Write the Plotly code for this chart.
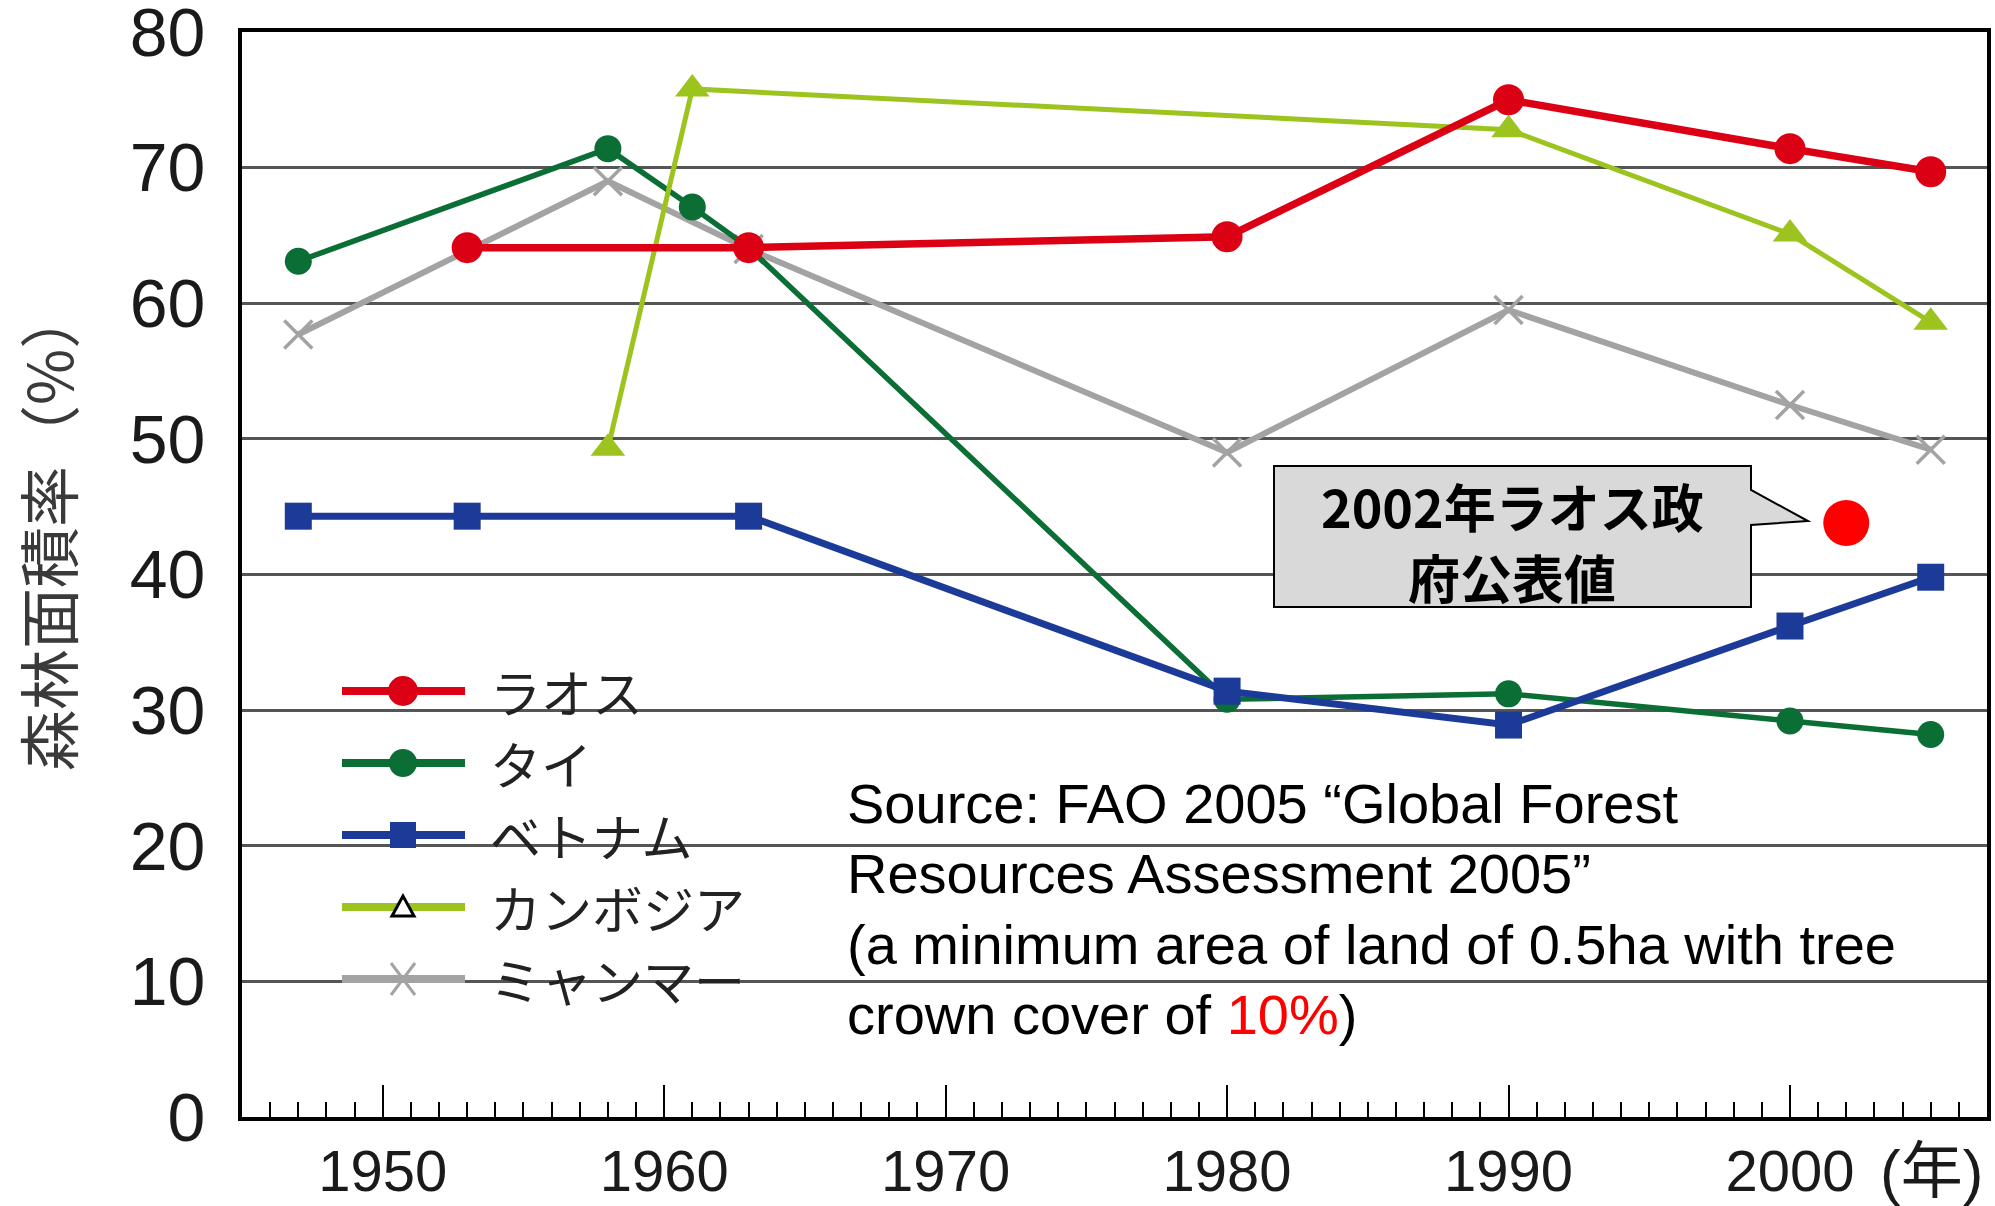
import plotly.graph_objects as go

# ---------------- data ----------------
laos_years = [1953, 1963, 1980, 1990, 2000, 2005]
laos_vals = [64.1, 64.1, 64.9, 75.0, 71.4, 69.7]

thai_years = [1947, 1958, 1961, 1963, 1980, 1990, 2000, 2005]
thai_vals = [63.1, 71.4, 67.1, 64.1, 30.8, 31.2, 29.2, 28.2]

viet_years = [1947, 1953, 1963, 1980, 1990, 2000, 2005]
viet_vals = [44.3, 44.3, 44.3, 31.4, 28.9, 36.2, 39.8]

camb_years = [1958, 1961, 1990, 2000, 2005]
camb_vals = [49.3, 75.8, 72.8, 65.1, 58.6]

myan_years = [1947, 1958, 1963, 1980, 1990, 2000, 2005]
myan_vals = [57.7, 69.0, 64.0, 49.0, 59.5, 52.5, 49.2]

gov_year = [2002]
gov_val = [43.8]

series_names = ["ラオス", "タイ", "ベトナム", "カンボジア", "ミャンマー"]
x_tick_vals = [1950, 1960, 1970, 1980, 1990, 2000]
x_tick_text = ["1950", "1960", "1970", "1980", "1990", "2000"]
y_tick_vals = [0, 10, 20, 30, 40, 50, 60, 70, 80]
y_tick_text = ["0", "10", "20", "30", "40", "50", "60", "70", "80"]

source_lines = [
    "Source: FAO 2005 \u201cGlobal Forest",
    "Resources Assessment 2005\u201d",
    "(a minimum area of land of 0.5ha with tree",
    "crown cover of <span style='fill:#ff0000;color:#ff0000'>10%</span>)",
]
callout_lines = ["2002年ラオス政", "府公表値"]

# ---------------- styling ----------------
W, H = 1995, 1206
L, R, T, B = 242, 1987, 32, 1117
NARROW = "Liberation Sans Narrow, Liberation Sans, Arial, sans-serif"
CJK = "Noto Sans CJK JP, sans-serif"

RED = "#dc0014"
GREEN = "#0b6e35"
BLUE = "#1c3a97"
YGREEN = "#9cc31e"
GRAY = "#a3a3a3"


def px(xp):
    return (xp - L) / (R - L)


def py(yp):
    return (B - yp) / (B - T)


fig = go.Figure()

fig.add_trace(go.Scatter(x=myan_years, y=myan_vals, mode="lines+markers", name=series_names[4],
                         line=dict(color=GRAY, width=6),
                         marker=dict(symbol="x-thin", size=28, line=dict(color=GRAY, width=3.5))))
fig.add_trace(go.Scatter(x=thai_years, y=thai_vals, mode="lines+markers", name=series_names[1],
                         line=dict(color=GREEN, width=5.5),
                         marker=dict(symbol="circle", size=27, color=GREEN)))
fig.add_trace(go.Scatter(x=viet_years, y=viet_vals, mode="lines+markers", name=series_names[2],
                         line=dict(color=BLUE, width=7),
                         marker=dict(symbol="square", size=27, color=BLUE)))
fig.add_trace(go.Scatter(x=camb_years, y=camb_vals, mode="lines+markers", name=series_names[3],
                         line=dict(color=YGREEN, width=5),
                         marker=dict(symbol="triangle-up", size=30, color=YGREEN)))
fig.add_trace(go.Scatter(x=laos_years, y=laos_vals, mode="lines+markers", name=series_names[0],
                         line=dict(color=RED, width=7.5),
                         marker=dict(symbol="circle", size=31, color=RED)))
fig.add_trace(go.Scatter(x=gov_year, y=gov_val, mode="markers", name="2002",
                         marker=dict(symbol="circle", size=46, color="#ff0000")))

shapes = []
annotations = []

# white panels behind legend and source text (cover gridlines)
shapes.append(dict(type="rect", xref="paper", yref="paper", layer="between",
                   x0=px(296), x1=px(801), y0=py(1050), y1=py(640),
                   fillcolor="white", line=dict(width=0)))
shapes.append(dict(type="rect", xref="paper", yref="paper", layer="between",
                   x0=px(824), x1=px(1943), y0=py(1062), y1=py(752),
                   fillcolor="white", line=dict(width=0)))

# custom legend
leg_colors = [RED, GREEN, BLUE, YGREEN, GRAY]
for i, (name, col) in enumerate(zip(series_names, leg_colors)):
    yc = 691 + 72 * i
    shapes.append(dict(type="line", xref="paper", yref="paper",
                       x0=px(342), x1=px(465), y0=py(yc), y1=py(yc),
                       line=dict(color=col, width=8)))
    mx = 403
    if i in (0, 1):
        r = 15 if i == 0 else 14
        shapes.append(dict(type="circle", xref="paper", yref="paper",
                           x0=px(mx - r), x1=px(mx + r), y0=py(yc + r), y1=py(yc - r),
                           fillcolor=col, line=dict(width=0)))
    elif i == 2:
        r = 13
        shapes.append(dict(type="rect", xref="paper", yref="paper",
                           x0=px(mx - r), x1=px(mx + r), y0=py(yc + r), y1=py(yc - r),
                           fillcolor=col, line=dict(width=0)))
    elif i == 3:
        path = "M {} {} L {} {} L {} {} Z".format(px(mx), py(yc - 11), px(mx - 11), py(yc + 9),
                                                 px(mx + 11), py(yc + 9))
        shapes.append(dict(type="path", xref="paper", yref="paper", path=path,
                           fillcolor="white", line=dict(color="black", width=3)))
    else:
        r = 12
        shapes.append(dict(type="line", xref="paper", yref="paper",
                           x0=px(mx - r), x1=px(mx + r), y0=py(yc - r - 4), y1=py(yc + r + 4),
                           line=dict(color=col, width=3)))
        shapes.append(dict(type="line", xref="paper", yref="paper",
                           x0=px(mx - r), x1=px(mx + r), y0=py(yc + r + 4), y1=py(yc - r - 4),
                           line=dict(color=col, width=3)))
    annotations.append(dict(xref="paper", yref="paper", x=px(488), y=py(yc), text=name,
                            showarrow=False, xanchor="left", yanchor="middle",
                            font=dict(family=CJK, size=51, color="#222222")))

# callout box
bx0, bx1, by0, by1 = 1274, 1751, 466, 607
path = ("M {a} {b} L {c} {b} L {c} {p1} L {tx} {ty} L {c} {p2} L {c} {d} L {a} {d} Z").format(
    a=px(bx0), b=py(by0), c=px(bx1), d=py(by1), p1=py(490), p2=py(525), tx=px(1808), ty=py(521))
shapes.append(dict(type="path", xref="paper", yref="paper", path=path,
                   fillcolor="#d9d9d9", line=dict(color="black", width=2)))
for j, t in enumerate(callout_lines):
    annotations.append(dict(xref="paper", yref="paper", x=px(1512), y=py(506 + 71 * j), text=t,
                            showarrow=False, xanchor="center", yanchor="middle",
                            font=dict(family=CJK, size=52, color="black", weight="bold")))

# source text
for j, t in enumerate(source_lines):
    annotations.append(dict(xref="paper", yref="paper", x=px(845), y=py(803 + 70.5 * j),
                            text=t, showarrow=False, xanchor="left", yanchor="middle",
                            font=dict(family=NARROW, size=56, color="black")))

# y-axis title
annotations.append(dict(xref="paper", yref="paper", x=px(46), y=py(530), text="森林面積率（%）",
                        showarrow=False, textangle=-90, xanchor="center", yanchor="middle",
                        font=dict(family=CJK, size=61, color="#3a3a3a")))
# (年) unit
annotations.append(dict(xref="paper", yref="paper", x=px(1878), y=py(1172), text="(年)",
                        showarrow=False, xanchor="left", yanchor="middle",
                        font=dict(family=NARROW + ", " + CJK, size=62, color="#1a1a1a")))

fig.update_layout(
    width=W, height=H,
    margin=dict(l=L, r=W - R, t=T, b=H - B, pad=0),
    paper_bgcolor="white", plot_bgcolor="white",
    showlegend=False,
    shapes=shapes, annotations=annotations,
    xaxis=dict(range=[1945, 2007], tickmode="array", tickvals=x_tick_vals,
               ticktext=x_tick_text,
               ticks="inside", ticklen=32, tickwidth=2, tickcolor="black",
               minor=dict(dtick=1, tick0=1945, ticks="inside", ticklen=15, tickwidth=1.5,
                          tickcolor="black", showgrid=False),
               showgrid=False, zeroline=False, showline=True, linewidth=4, linecolor="black",
               mirror=True, ticklabelstandoff=0, automargin=False, ticklabeloverflow="allow",
               tickfont=dict(family=NARROW, size=58, color="#1a1a1a")),
    xaxis2=dict(range=[1945, 2007], overlaying="x", anchor="y", side="bottom",
                tickmode="array", tickvals=[1950, 1955, 1960, 1965, 1970, 1975, 1980, 1985, 1990,
                                            1995, 2000, 2005],
                ticks="inside", ticklen=23, tickwidth=1.5, tickcolor="black", automargin=False,
                showticklabels=False, showgrid=False, zeroline=False, showline=False),
    yaxis=dict(range=[0, 80], tickmode="array", tickvals=y_tick_vals,
               ticktext=y_tick_text,
               showgrid=True, gridcolor="#555555", gridwidth=2.5, zeroline=False,
               showline=True, linewidth=4, linecolor="black", mirror=True,
               ticks="", ticklabelstandoff=19, automargin=False, ticklabeloverflow="allow",
               tickfont=dict(family=NARROW, size=68, color="#1a1a1a")),
)

fig.write_html("out.html")
